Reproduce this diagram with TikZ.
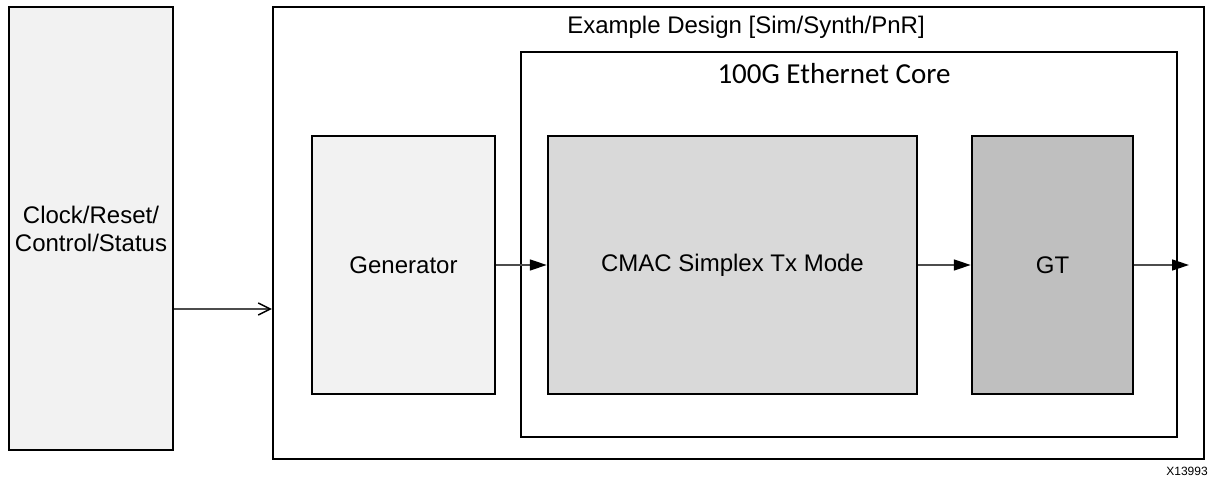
\documentclass[tikz,border=0pt]{standalone}
\usepackage{fontspec}
\setmainfont{Liberation Sans}
\newfontfamily\calibri{Carlito}
\usetikzlibrary{arrows.meta}

\begin{document}
\begin{tikzpicture}[x=0.5pt,y=-0.5pt,
    blk/.style={draw=black, line width=1.25pt, inner sep=0pt, align=center,
      font=\fontsize{12}{14}\selectfont},
    wire/.style={draw=black!70, line width=0.7pt},
    solidtip/.style={wire,-{Triangle[length=8.5pt,width=5.5pt,color=black]}},
    opentip/.style={wire,-{Straight Barb[length=6pt,width=6pt,color=black]}}]
      \useasboundingbox (0,0) rectangle (1220,480);

      % outer blocks
      \node[blk, fill=black!5, minimum width=82pt, minimum height=221.5pt] (ctrl) at (91,228.5) {Clock/Reset/\\Control/Status};
      \node[blk, minimum width=465.5pt, minimum height=226pt] (design) at (738.5,233) {};
      \node[font=\fontsize{12}{14}\selectfont] (designlbl) at (746,27) {Example Design [Sim/Synth/PnR]};

      % core
      \node[blk, minimum width=328pt, minimum height=192.5pt] (core) at (849,244.5) {};
      \node[font=\calibri\fontsize{14.5}{17}\selectfont] (corelbl) at (834,74) {100G Ethernet Core};

      \node[blk, fill=black!5, minimum width=91.5pt, minimum height=129pt] (gen) at (403.5,265) {Generator};
      \node[blk, fill=black!15, minimum width=184.5pt, minimum height=129pt] (cmac) at (732.5,265) {CMAC Simplex Tx Mode};
      \node[blk, fill=black!25, minimum width=80.5pt, minimum height=129pt] (gt) at (1052.5,265) {GT};

      \coordinate (ctl) at (0,309);
      \coordinate (out) at (1189,265);

      \draw[opentip] (ctrl.east |- ctl) -- (design.west |- ctl);
      \draw[solidtip] (gen.east) -- (cmac.west);
      \draw[solidtip] (cmac.east) -- (gt.west);
      \draw[solidtip] (gt.east) -- (out);

      \node[font=\fontsize{6}{7}\selectfont] (fignum) at (1187,471) {X13993};
\end{tikzpicture}
\end{document}
